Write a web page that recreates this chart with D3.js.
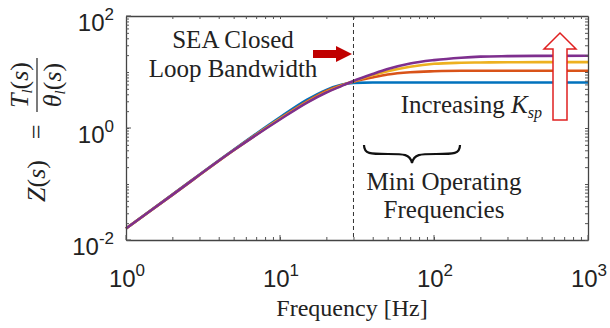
<!DOCTYPE html>
<html>
<head>
<meta charset="utf-8">
<script src="https://cdn.jsdelivr.net/npm/d3@7"></script>
<style>
  body { margin: 0; background: #fff; }
  text { fill: #222; }
  .tick-label { font-family: Arial, "Liberation Sans", sans-serif; font-size: 24px; }
  .serif { font-family: "Times New Roman", "Liberation Serif", serif; }
</style>
</head>
<body>
<svg id="chart" width="610" height="328"></svg>
<script>
const freqs = [1, 2, 5, 10, 15, 20, 25, 30, 40, 50, 70, 100, 150, 200, 300, 500, 1000];

// |Z| for increasing K_sp
const zBlue   = [0.016, 0.065, 0.41, 1.55, 3.2, 4.8, 5.9, 6.4, 6.5, 6.5, 6.5, 6.5, 6.5, 6.5, 6.5, 6.5, 6.5];
const zOrange = [0.016, 0.064, 0.40, 1.48, 3.0, 4.6, 5.8, 6.7, 8.0, 9.0, 9.9, 10.3, 10.5, 10.5, 10.5, 10.5, 10.5];
const zYellow = [0.016, 0.064, 0.40, 1.45, 2.9, 4.4, 5.7, 6.8, 8.8, 10.3, 12.4, 14.0, 14.6, 14.8, 14.9, 15.0, 15.0];
const zPurple = [0.016, 0.064, 0.40, 1.42, 2.85, 4.3, 5.6, 6.9, 9.2, 11.3, 14.2, 16.3, 18.0, 18.8, 19.2, 19.4, 19.5];

const series = [zBlue, zOrange, zYellow, zPurple];
const colors = ["#0072BD", "#D95319", "#EDB120", "#7E2F8E"];

const xTicks = [1, 10, 100, 1000];
const yTicks = [0.01, 1, 100];
const bandwidth = 30;

const margin = { left: 126, right: 22, top: 16, bottom: 88 };
const width = 610, height = 328;

const svg = d3.select("#chart");

const x = d3.scaleLog().domain([1, 1000]).range([margin.left, width - margin.right]);
const y = d3.scaleLog().domain([0.01, 100]).range([height - margin.bottom, margin.top]);

/* ========== LINES ========== */

const line = d3.line()
  .x((d, i) => x(freqs[i]))
  .y(d => y(d))
  .curve(d3.curveMonotoneX);

svg.append("g")
  .selectAll("path")
  .data(series)
  .join("path")
  .attr("fill", "none")
  .attr("stroke", (d, i) => colors[i])
  .attr("stroke-width", 2.6)
  .attr("d", d => line(d));

// bandwidth marker
svg.append("line")
  .attr("x1", x(bandwidth)).attr("x2", x(bandwidth))
  .attr("y1", y(100)).attr("y2", y(0.01))
  .attr("stroke", "#333").attr("stroke-width", 1)
  .attr("stroke-dasharray", "4,3");

/* ========== AXES ========== */

const minorX = d3.range(1, 4).flatMap(e => d3.range(1, 10).map(k => k * Math.pow(10, e - 1)));
const minorY = d3.range(-2, 2).flatMap(e => d3.range(1, 10).map(k => k * Math.pow(10, e)));

function box(sel, axis, tr) {
  sel.append("g").attr("transform", tr).call(axis)
    .call(g => g.select(".domain").attr("stroke", "#444").attr("stroke-width", 1.3))
    .call(g => g.selectAll(".tick line").attr("stroke", "#555"))
    .call(g => g.selectAll("text").remove());
}

const bottomY = height - margin.bottom, rightX = width - margin.right;
box(svg, d3.axisBottom(x).tickValues(minorX).tickSizeInner(-3).tickSizeOuter(0), `translate(0,${bottomY})`);
box(svg, d3.axisTop(x).tickValues(minorX).tickSizeInner(-3).tickSizeOuter(0), `translate(0,${margin.top})`);
box(svg, d3.axisLeft(y).tickValues(minorY).tickSizeInner(-3).tickSizeOuter(0), `translate(${margin.left},0)`);
box(svg, d3.axisRight(y).tickValues(minorY).tickSizeInner(-3).tickSizeOuter(0), `translate(${rightX},0)`);

// major ticks a bit longer
svg.append("g").selectAll("line").data(xTicks).join("line")
  .attr("x1", d => x(d)).attr("x2", d => x(d))
  .attr("y1", bottomY).attr("y2", bottomY - 5).attr("stroke", "#555");
svg.append("g").selectAll("line").data(yTicks).join("line")
  .attr("y1", d => y(d)).attr("y2", d => y(d))
  .attr("x1", margin.left).attr("x2", margin.left + 5).attr("stroke", "#555");

function powLabel(sel, d) {
  const e = Math.round(Math.log10(d));
  sel.text("10");
  sel.append("tspan").attr("dy", -11).attr("font-size", 17).text(e);
}

svg.append("g").selectAll("text").data(xTicks).join("text")
  .attr("class", "tick-label")
  .attr("x", d => x(d) + 1)
  .attr("y", bottomY + 47)
  .attr("text-anchor", "middle")
  .each(function (d) { powLabel(d3.select(this), d); });

svg.append("g").selectAll("text").data(yTicks).join("text")
  .attr("class", "tick-label")
  .attr("x", margin.left - 12)
  .attr("y", d => y(d) + 15)
  .attr("text-anchor", "end")
  .each(function (d) { powLabel(d3.select(this), d); });

/* ========== TITLES ========== */

svg.append("text").attr("class", "serif")
  .attr("x", 352).attr("y", 316)
  .attr("text-anchor", "middle").attr("font-size", 24)
  .text("Frequency [Hz]");

const yl = svg.append("g").attr("class", "serif").attr("font-size", 26)
  .attr("transform", "translate(37,250) rotate(-90)");
const zt = yl.append("text").attr("x", 48).attr("y", 8);
zt.append("tspan").attr("font-style", "italic").text("Z");
zt.append("tspan").text("(");
zt.append("tspan").attr("font-style", "italic").text("s");
zt.append("tspan").text(")");
yl.append("text").attr("x", 118).attr("y", 8).attr("text-anchor", "middle").text("=");
yl.append("line").attr("x1", 138).attr("x2", 192).attr("y1", 0).attr("y2", 0)
  .attr("stroke", "#222").attr("stroke-width", 1.2);
const num = yl.append("text").attr("x", 165).attr("y", -9).attr("text-anchor", "middle");
num.append("tspan").attr("font-style", "italic").text("T");
num.append("tspan").attr("font-style", "italic").attr("font-size", 15).attr("dy", 4).text("l");
num.append("tspan").attr("dy", -4).text("(");
num.append("tspan").attr("font-style", "italic").text("s");
num.append("tspan").text(")");
const den = yl.append("text").attr("x", 165).attr("y", 24).attr("text-anchor", "middle");
den.append("tspan").attr("font-style", "italic").text("θ");
den.append("tspan").attr("font-style", "italic").attr("font-size", 15).attr("dy", 4).text("l");
den.append("tspan").attr("dy", -4).text("(");
den.append("tspan").attr("font-style", "italic").text("s");
den.append("tspan").text(")");

/* ========== ANNOTATIONS ========== */

const ann = svg.append("g").attr("class", "serif").attr("font-size", 25);
ann.append("text").attr("x", 233).attr("y", 48).attr("text-anchor", "middle").text("SEA Closed");
ann.append("text").attr("x", 233).attr("y", 77).attr("text-anchor", "middle").text("Loop Bandwidth");

// filled red arrow pointing at the bandwidth line
svg.append("path")
  .attr("d", "M313,50 L336,50 L336,46 L352,54 L336,62 L336,58 L313,58 Z")
  .attr("fill", "#c00000");

const inc = ann.append("text").attr("x", 542).attr("y", 113).attr("text-anchor", "end");
inc.append("tspan").text("Increasing ");
inc.append("tspan").attr("font-style", "italic").text("K");
inc.append("tspan").attr("font-style", "italic").attr("font-size", 16).attr("dy", 5).text("sp");

// hollow up arrow
svg.append("path")
  .attr("d", "M553,120 L553,49 L544,49 L560,33 L576,49 L567,49 L567,120 Z")
  .attr("fill", "#fff").attr("stroke", "#e02020").attr("stroke-width", 1.5);

// curly brace
svg.append("path")
  .attr("d", "M364,145 C364,154 370,154 388,154 C404,154 410,154 412,163 C414,154 420,154 436,154 C454,154 460,154 460,145")
  .attr("fill", "none").attr("stroke", "#111").attr("stroke-width", 2.2);

ann.append("text").attr("x", 444).attr("y", 190).attr("text-anchor", "middle").text("Mini Operating");
ann.append("text").attr("x", 444).attr("y", 218).attr("text-anchor", "middle").text("Frequencies");
</script>
</body>
</html>
